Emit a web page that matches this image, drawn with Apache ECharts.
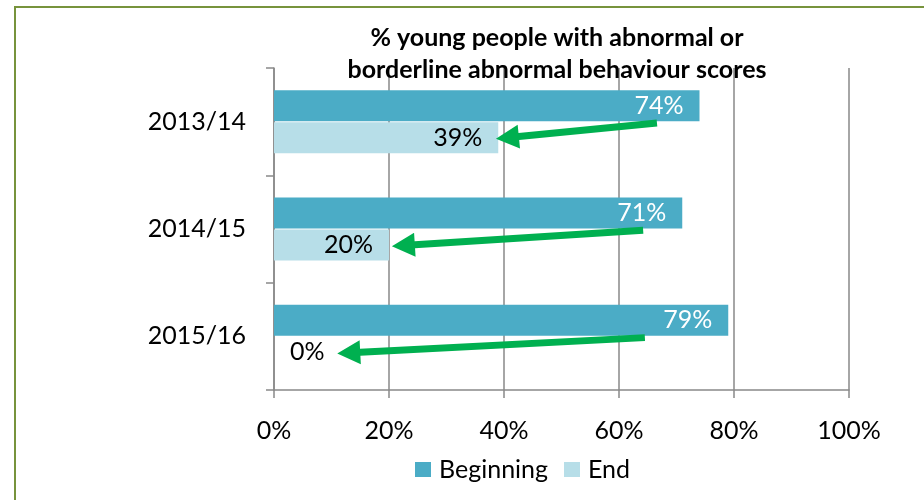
<!DOCTYPE html>
<html>
<head>
<meta charset="utf-8">
<script src="https://cdn.jsdelivr.net/npm/echarts@6/dist/echarts.min.js"></script>
<style>html,body{margin:0;padding:0;background:#fff}#c{width:924px;height:500px}</style>
</head>
<body>
<div id="c"></div>
<script>
var categories = ['2013/14', '2014/15', '2015/16'];
var beginning = [74, 71, 79];
var end = [39, 20, 0];
var xTicks = [0, 20, 40, 60, 80, 100];
var titleText = '% young people with abnormal or\nborderline abnormal behaviour scores';
// arrows: [from value, to value, category index]
var arrowFrom = [66.6, 64.2, 64.5];
var arrowTo = [38.6, 20.5, 11];

var FONT = 'Lato, "Open Sans", sans-serif';
var chart = echarts.init(document.getElementById('c'));

var arrowData = categories.map(function (c, i) { return [arrowFrom[i], arrowTo[i], i]; });

chart.setOption({
  animation: false,
  backgroundColor: '#fff',
  graphic: [{
    type: 'rect', silent: true, z: -10,
    shape: { x: 15, y: 7, width: 1200, height: 1200 },
    style: { fill: null, stroke: '#77933C', lineWidth: 2 }
  }],
  title: {
    text: titleText,
    left: 552, top: 17, textAlign: 'center',
    textStyle: { fontFamily: FONT, fontWeight: 'bold', fontSize: 25, lineHeight: 32, color: '#000' }
  },
  legend: {
    data: ['Beginning', 'End'],
    left: 410, top: 452,
    itemWidth: 16, itemHeight: 15, itemGap: 16,
    icon: 'rect',
    textStyle: { fontFamily: FONT, fontSize: 25, color: '#000', padding: [0, 0, 0, 3] }
  },
  grid: { left: 274, right: 75, top: 68, bottom: 110, containLabel: false },
  xAxis: {
    type: 'value', min: xTicks[0], max: xTicks[xTicks.length - 1], interval: 20,
    axisLine: { show: true, lineStyle: { color: '#898989', width: 1.5 } },
    axisTick: { show: true, length: 8, lineStyle: { color: '#898989', width: 1.5 } },
    splitLine: { show: true, lineStyle: { color: '#898989', width: 1.5 } },
    axisLabel: { formatter: '{value}%', fontFamily: FONT, fontSize: 25, color: '#000', margin: 28 }
  },
  yAxis: {
    type: 'category', data: categories, inverse: true,
    axisLine: { show: true, lineStyle: { color: '#898989', width: 1.5 } },
    axisTick: { show: true, length: 8, lineStyle: { color: '#898989', width: 1.5 } },
    axisLabel: { fontFamily: FONT, fontSize: 25, color: '#000', margin: 28 }
  },
  series: [{
    name: 'Beginning', type: 'bar', data: beginning,
    barWidth: 31, barGap: '3%',
    itemStyle: { color: '#4BACC6' },
    label: { show: true, position: 'insideRight', distance: 16, formatter: '{c}%',
      fontFamily: FONT, fontSize: 25, color: '#fff' }
  }, {
    name: 'End', type: 'bar',
    data: end.map(function (v) {
      return v === 0 ? { value: v, label: { position: 'right', distance: 16 } } : v;
    }),
    barWidth: 31,
    itemStyle: { color: '#B7DEE8' },
    label: { show: true, position: 'insideRight', distance: 16, formatter: '{c}%',
      fontFamily: FONT, fontSize: 25, color: '#000' }
  }, {
    name: 'arrows', type: 'custom', data: arrowData, z: 10,
    encode: { x: [0, 1], y: 2 }, clip: false,
    renderItem: function (params, api) {
      var band = api.size([0, 1])[1];
      var a = api.coord([api.value(0), api.value(2)]);
      var b = api.coord([api.value(1), api.value(2)]);
      var tail = [a[0], a[1] + band * 0.012];
      var tip = [b[0], b[1] + band * 0.16];
      var dx = tip[0] - tail[0], dy = tip[1] - tail[1];
      var len = Math.sqrt(dx * dx + dy * dy);
      var ux = dx / len, uy = dy / len, nx = -uy, ny = ux;
      var hl = 23, hw = 12, sw = 3.5;
      var base = [tip[0] - ux * hl, tip[1] - uy * hl];
      var pts = [
        [tail[0] + nx * sw, tail[1] + ny * sw],
        [base[0] + nx * sw, base[1] + ny * sw],
        [base[0] + nx * hw, base[1] + ny * hw],
        tip,
        [base[0] - nx * hw, base[1] - ny * hw],
        [base[0] - nx * sw, base[1] - ny * sw],
        [tail[0] - nx * sw, tail[1] - ny * sw]
      ];
      return { type: 'polygon', shape: { points: pts }, style: { fill: '#00B050' } };
    }
  }]
});
</script>
</body>
</html>
